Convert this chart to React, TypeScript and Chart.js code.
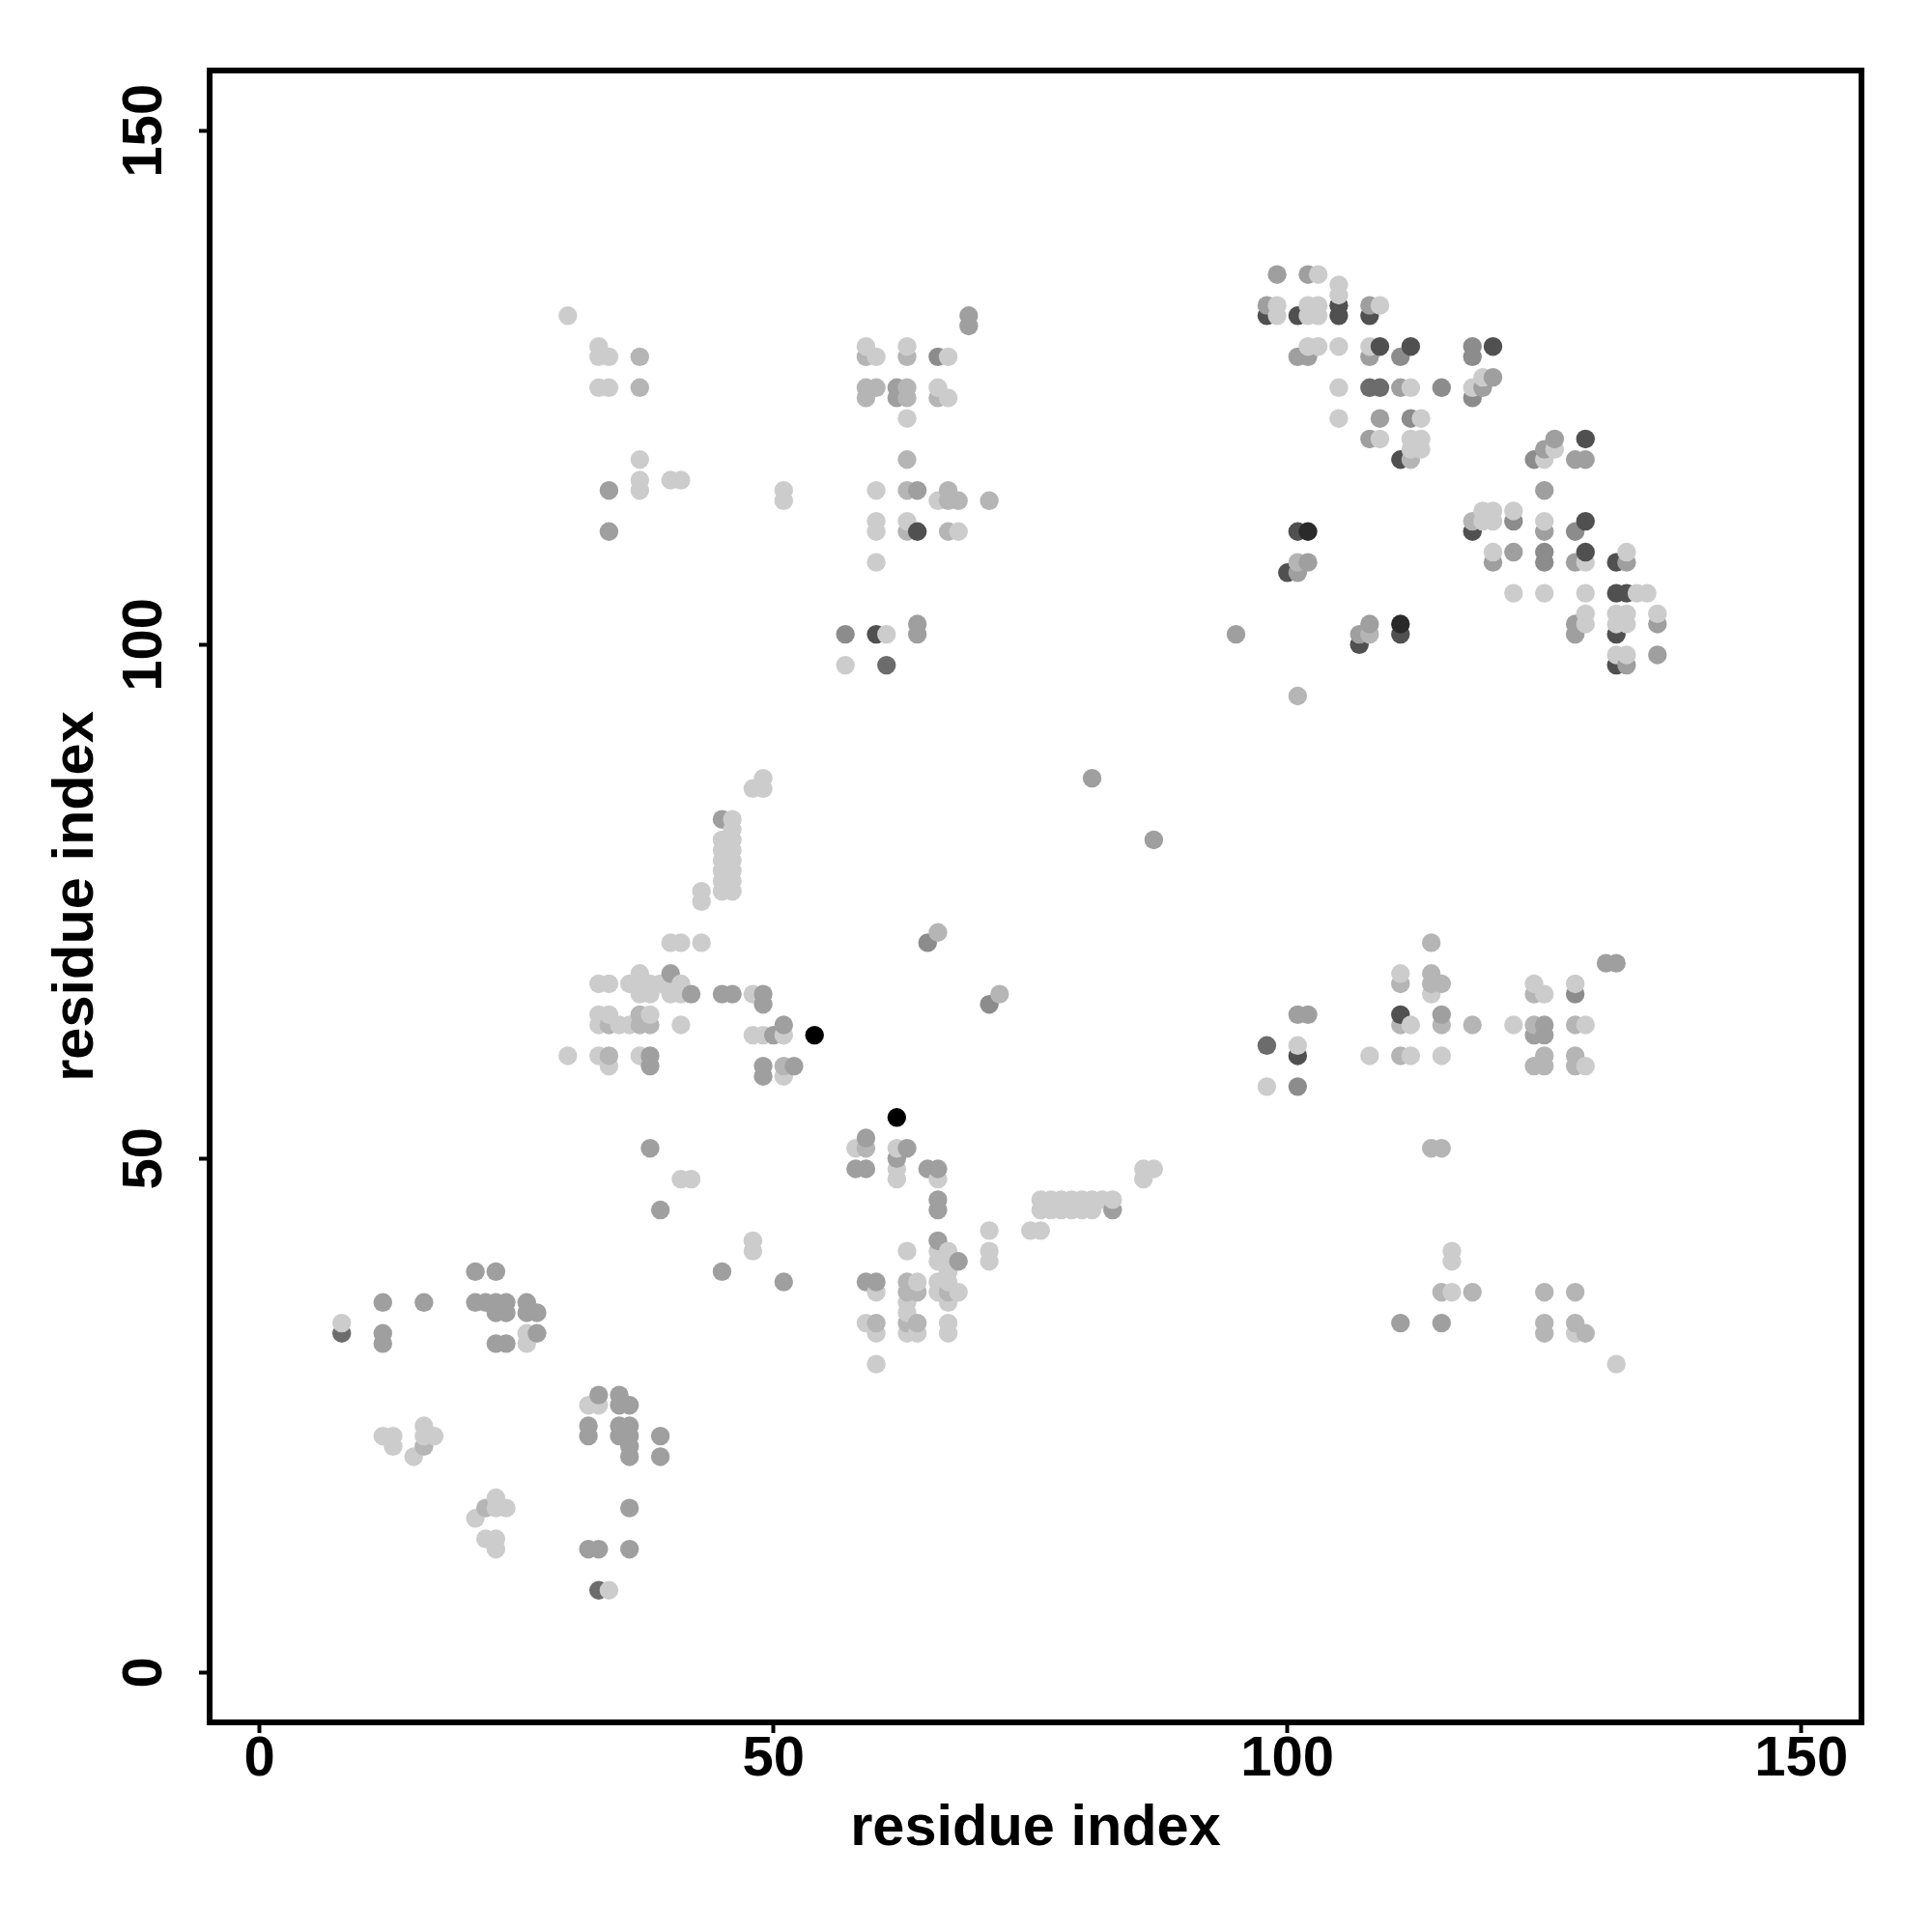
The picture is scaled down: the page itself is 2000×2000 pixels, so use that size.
import React, { useEffect, useRef } from "react";
import { Chart, registerables } from "chart.js";

Chart.register(...registerables);

// Contact strength tones (grey level), lightest to black
const A = 204, B = 181, C = 159, D = 140, E = 108, F = 80, G = 42, H = 0;

type Contact = [number, number, number];

const lowerLeft: Contact[] = [
  [8,33,E],[8,34,A],[12,36,C],[12,33,C],[12,32,C],[16,36,C],[21,39,C],[23,39,C],
  [21,36,C],[22,36,C],[23,36,C],[24,36,C],[23,35,C],[24,35,C],[26,36,C],[26,35,C],[27,35,C],
  [26,33,A],[26,32,A],[27,33,C],[23,32,C],[24,32,C],
  [12,23,A],[13,23,A],[13,22,A],[16,24,A],[16,23,A],[16,22,B],[17,23,A],[15,21,A],
  [23,17,A],[22,16,B],[23,16,A],[24,16,A],[21,15,A],[22,13,A],[23,13,A],[23,12,A],
  [33,27,C],[32,26,A],[33,26,A],[35,27,C],[35,26,C],[36,26,C],
  [32,24,C],[32,23,C],[35,24,C],[35,23,C],[36,24,C],[36,23,C],[36,22,C],[36,21,C],
  [39,23,C],[39,21,C],[36,16,C],[32,12,C],[33,12,C],[36,12,C],[33,8,E],[34,8,A],
  [39,45,C],[45,39,C],[51,38,C],[48,42,A],[48,41,A],[38,51,C],[41,48,A],[42,48,A],
];

const midLeft: Contact[] = [
  [40,71,A],[41,71,A],[43,71,A],[37,68,A],[40,68,C],
  [33,67,A],[34,67,A],[36,67,A],[37,67,A],[38,67,A],[39,67,A],[40,67,A],[41,67,A],
  [37,66,A],[38,66,A],[40,66,A],[41,66,A],[42,66,C],[45,66,C],[46,66,C],[48,66,A],[49,66,C],[49,65,C],
  [33,64,A],[34,64,A],[37,64,B],[38,64,A],
  [33,63,A],[34,63,B],[35,63,A],[36,63,A],[37,63,B],[38,63,B],[41,63,A],[51,63,C],
  [48,62,A],[49,62,A],[50,62,C],[51,62,A],[54,62,H],
  [30,60,A],[33,60,A],[34,60,B],[37,60,A],[38,60,C],[34,59,A],[38,59,C],
  [49,59,C],[49,58,C],[51,59,B],[52,59,C],[51,58,A],
  [49,87,A],[48,86,A],[49,86,A],[45,83,C],[46,83,A],
  [45,81,A],[45,80,A],[45,79,A],[45,78,A],[45,77,A],[45,76,A],
  [46,82,A],[46,81,A],[46,80,A],[46,79,A],[46,78,A],[46,77,A],[46,76,A],
  [43,76,A],[43,75,A],
];

const midCentre: Contact[] = [
  [62,54,H],[59,52,C],[58,51,A],[59,51,B],[62,51,A],[63,51,C],[62,50,C],
  [58,49,C],[59,49,C],[62,49,A],[65,49,C],[66,49,C],[62,48,A],[66,48,A],[66,46,C],[66,45,C],
  [76,46,A],[77,46,A],[78,46,A],[79,46,A],[80,46,A],[81,46,A],[82,46,A],[83,46,A],
  [76,45,A],[77,45,A],[78,45,A],[79,45,A],[80,45,A],[81,45,A],[83,45,C],
  [86,49,A],[87,49,A],[86,48,A],[71,43,A],[75,43,A],[76,43,A],[71,41,A],[71,40,A],
  [66,42,C],[63,41,A],[66,41,A],[67,41,A],[66,40,A],[67,40,A],[68,40,C],[67,39,A],
  [59,38,C],[60,38,C],[63,38,B],[64,38,A],[66,38,A],[67,38,A],
  [60,37,A],[63,37,B],[64,37,B],[66,37,A],[67,37,B],[68,37,A],[63,36,A],[67,36,A],[63,35,A],
  [59,34,A],[60,34,B],[63,34,B],[64,34,B],[67,34,A],[60,33,A],[63,33,A],[64,33,A],[67,33,A],[60,30,A],
  [81,87,C],[87,81,C],[65,71,D],[66,72,B],[71,65,D],[72,66,B],
];

const upperLeft: Contact[] = [
  [30,132,A],[33,129,A],[33,128,A],[34,128,A],[37,128,B],[33,125,A],[34,125,A],[37,125,B],
  [37,118,A],[37,116,A],[40,116,A],[41,116,A],[34,115,C],[37,115,A],[34,111,C],
  [51,115,A],[51,114,A],
];

const upperCentre: Contact[] = [
  [69,132,C],[69,131,C],[59,129,A],[63,129,A],[59,128,B],[60,128,A],[63,128,B],[66,128,D],[67,128,A],
  [59,125,B],[60,125,B],[62,125,C],[63,125,B],[66,125,A],
  [59,124,B],[62,124,C],[63,124,B],[66,124,B],[67,124,A],[63,122,A],[63,118,B],
  [60,115,A],[63,115,B],[64,115,C],[67,115,B],[66,114,A],[67,114,B],[68,114,B],[71,114,B],
  [60,112,A],[63,112,A],[60,111,A],[63,111,B],[64,111,F],[67,111,B],[68,111,A],[60,108,A],
  [57,101,D],[60,101,F],[61,101,A],[64,102,C],[64,101,C],[57,98,A],[61,98,E],
];

const upperRightTop: Contact[] = [
  [99,136,C],[102,136,C],[103,136,A],[105,135,A],[105,134,A],
  [98,133,C],[99,133,A],[102,133,A],[103,133,A],[105,133,F],[108,133,C],[109,133,A],
  [98,132,F],[99,132,A],[101,132,F],[102,132,A],[103,132,A],[105,132,F],[108,132,F],
  [102,129,A],[103,129,A],[105,129,A],[108,129,A],[109,129,F],[112,129,F],[118,129,D],[120,129,F],
  [101,128,C],[102,128,C],[108,128,C],[111,128,D],[118,128,D],
  [119,126,A],[120,126,C],[105,125,A],[108,125,E],[109,125,E],[111,125,C],[112,125,A],[115,125,D],[118,125,A],[119,125,C],[118,124,D],
  [105,122,A],[109,122,C],[112,122,D],[113,122,A],
  [108,120,C],[109,120,A],[112,120,A],[113,120,A],[112,119,A],[113,119,A],[111,118,F],[112,118,B],
];

const upperRightBottom: Contact[] = [
  [126,120,C],[129,120,F],[125,119,C],[126,119,A],[124,118,D],[125,118,A],[128,118,C],[129,118,C],[125,115,C],
  [119,113,A],[120,113,A],[122,113,A],[118,112,B],[119,112,A],[120,112,A],[122,112,D],[125,112,A],[129,112,F],
  [118,111,F],[125,111,C],[128,111,D],
  [120,109,A],[122,109,C],[125,109,D],[129,109,F],[133,109,A],[120,108,C],[125,108,D],[128,108,C],[129,108,A],[132,108,F],[133,108,C],
  [122,105,A],[125,105,A],[129,105,A],[132,105,F],[133,105,F],[134,105,A],[135,105,A],
  [129,103,A],[132,103,A],[133,103,A],[136,103,A],[128,102,C],[129,102,A],[132,102,A],[133,102,A],[136,102,C],
  [128,101,C],[132,101,F],[132,99,A],[133,99,A],[136,99,C],[132,98,F],[133,98,C],
  [101,111,F],[102,111,G],[101,108,B],[102,108,C],[100,107,F],[101,107,C],
  [108,102,C],[111,102,G],[95,101,C],[107,101,C],[108,101,B],[111,101,F],[107,100,F],[101,95,B],
];

const lowerRight: Contact[] = [
  [114,71,B],[131,69,C],[132,69,C],[111,68,A],[114,68,B],
  [111,67,B],[114,67,B],[115,67,B],[124,67,A],[128,67,A],[114,66,A],[124,66,B],[125,66,A],[128,66,D],
  [101,64,C],[102,64,C],[111,64,F],[115,64,C],
  [111,63,B],[112,63,A],[115,63,B],[118,63,B],[122,63,A],[124,63,B],[125,63,C],[128,63,B],[129,63,A],
  [124,62,C],[125,62,C],[98,61,E],[101,61,A],
  [101,60,F],[108,60,A],[111,60,B],[112,60,A],[115,60,A],[125,60,B],[128,60,B],
  [124,59,B],[125,59,B],[128,59,B],[129,59,A],[98,57,A],[101,57,D],
  [114,51,B],[115,51,B],[116,41,A],[116,40,A],[115,37,B],[116,37,A],[118,37,B],[111,34,C],[115,34,C],
  [125,37,B],[128,37,B],[125,34,B],[125,33,B],[128,34,B],[128,33,A],[129,33,B],[132,30,A],
];

const xTickValues = [0, 50, 100, 150];
const yTickValues = [0, 50, 100, 150];
const xAxisTitle = "residue index";
const yAxisTitle = "residue index";

const contacts: Contact[] = [
  ...lowerLeft, ...midLeft, ...midCentre, ...upperLeft, ...upperCentre,
  ...upperRightTop, ...upperRightBottom, ...lowerRight,
].sort((p, q) => p[0] - q[0] || p[1] - q[1]);

const FONT = "'Liberation Sans', Arial, sans-serif";

export default function App() {
  const ref = useRef<HTMLCanvasElement | null>(null);
  useEffect(() => {
    if (!ref.current) return;
    const frame = {
      id: "frame",
      afterDraw(chart: any) {
        const { ctx, chartArea: a } = chart;
        ctx.save();
        ctx.strokeStyle = "#000";
        ctx.lineWidth = 6;
        ctx.strokeRect(a.left, a.top, a.right - a.left, a.bottom - a.top);
        ctx.restore();
      },
    };
    const chart = new Chart(ref.current, {
      type: "scatter",
      data: {
        datasets: [
          {
            data: contacts.map((c) => ({ x: c[0], y: c[1] })),
            backgroundColor: contacts.map((c) => `rgb(${c[2]},${c[2]},${c[2]})`),
            pointRadius: 9.7,
            pointBorderWidth: 0,
            borderWidth: 0,
          },
        ],
      },
      options: {
        animation: false,
        responsive: false,
        devicePixelRatio: 1,
        layout: { padding: { left: 0, top: 73, right: 73, bottom: 0 } },
        plugins: { legend: { display: false }, tooltip: { enabled: false } },
        scales: {
          x: {
            type: "linear",
            min: -4.85,
            max: 155.85,
            afterBuildTicks: (s: any) => { s.ticks = xTickValues.map((value) => ({ value })); },
            afterFit: (s: any) => { s.height = 217; },
            grid: { drawOnChartArea: false, drawTicks: true, tickLength: 11, tickWidth: 4, tickColor: "#000" },
            border: { display: false },
            ticks: { color: "#000", font: { family: FONT, size: 58, weight: "bold" }, padding: -7, maxRotation: 0, autoSkip: false },
            title: { display: true, text: xAxisTitle, color: "#000", font: { family: FONT, size: 59.5, weight: "bold" }, padding: { top: 0, bottom: 71 } },
          },
          y: {
            type: "linear",
            min: -4.85,
            max: 155.85,
            afterBuildTicks: (s: any) => { s.ticks = yTickValues.map((value) => ({ value })); },
            afterFit: (s: any) => { s.width = 217; },
            grid: { drawOnChartArea: false, drawTicks: true, tickLength: 11, tickWidth: 4, tickColor: "#000" },
            border: { display: false },
            ticks: { color: "#000", font: { family: FONT, size: 58, weight: "bold" }, padding: 7, minRotation: 90, maxRotation: 90, autoSkip: false, crossAlign: "center" },
            title: { display: true, text: yAxisTitle, color: "#000", font: { family: FONT, size: 59.5, weight: "bold" }, padding: { top: 44, bottom: 0 } },
          },
        },
      },
      plugins: [frame],
    } as any);
    return () => chart.destroy();
  }, []);
  return (
    <canvas
      ref={ref}
      width={2000}
      height={2000}
      style={{ position: "absolute", left: 0, top: 0, width: 2000, height: 2000 }}
    />
  );
}
